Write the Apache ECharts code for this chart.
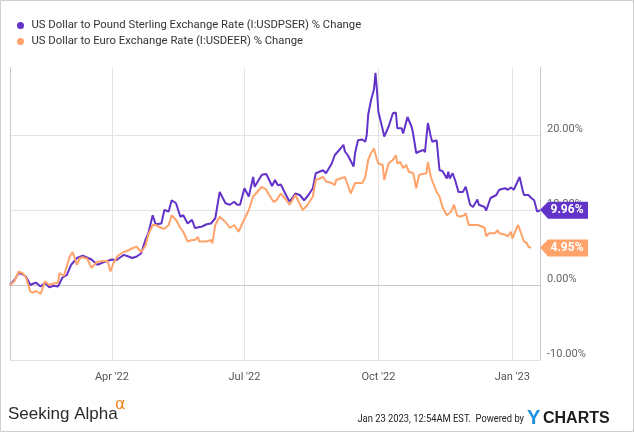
<!DOCTYPE html>
<html>
<head>
<meta charset="utf-8">
<script src="https://cdn.jsdelivr.net/npm/echarts@6/dist/echarts.min.js"></script>
<style>html,body{margin:0;padding:0;background:#fff;}#c{width:635px;height:433px;}</style>
</head>
<body>
<div id="c"></div>
<script>
const gbpName = 'US Dollar to Pound Sterling Exchange Rate (I:USDPSER) % Change';
const eurName = 'US Dollar to Euro Exchange Rate (I:USDEER) % Change';

const gbpDates = ['2022-01-21','2022-01-24','2022-01-27','2022-01-30','2022-02-01','2022-02-04','2022-02-06','2022-02-08','2022-02-11','2022-02-14','2022-02-17','2022-02-20','2022-02-23','2022-02-26','2022-03-01','2022-03-04','2022-03-08','2022-03-12','2022-03-18','2022-03-22','2022-03-27','2022-04-01','2022-04-04','2022-04-09','2022-04-11','2022-04-15','2022-04-18','2022-04-21','2022-04-24','2022-04-26','2022-04-29','2022-05-01','2022-05-05','2022-05-07','2022-05-10','2022-05-12','2022-05-15','2022-05-18','2022-05-20','2022-05-23','2022-05-26','2022-05-28','2022-06-02','2022-06-05','2022-06-08','2022-06-11','2022-06-14','2022-06-18','2022-06-21','2022-06-24','2022-06-26','2022-06-28','2022-07-01','2022-07-04','2022-07-07','2022-07-08','2022-07-13','2022-07-16','2022-07-20','2022-07-22','2022-07-24','2022-07-26','2022-07-29','2022-08-01','2022-08-05','2022-08-08','2022-08-11','2022-08-14','2022-08-17','2022-08-19','2022-08-24','2022-08-26','2022-08-30','2022-09-01','2022-09-05','2022-09-07','2022-09-08','2022-09-10','2022-09-14','2022-09-15','2022-09-17','2022-09-20','2022-09-22','2022-09-23','2022-09-24','2022-09-26','2022-09-28','2022-09-29','2022-09-30','2022-10-01','2022-10-04','2022-10-05','2022-10-08','2022-10-11','2022-10-13','2022-10-14','2022-10-17','2022-10-18','2022-10-21','2022-10-24','2022-10-25','2022-10-27','2022-10-29','2022-11-01','2022-11-02','2022-11-04','2022-11-06','2022-11-07','2022-11-10','2022-11-12','2022-11-14','2022-11-17','2022-11-18','2022-11-19','2022-11-21','2022-11-23','2022-11-25','2022-11-28','2022-11-30','2022-12-03','2022-12-05','2022-12-08','2022-12-09','2022-12-13','2022-12-14','2022-12-17','2022-12-21','2022-12-23','2022-12-27','2022-12-29','2022-12-31','2023-01-02','2023-01-06','2023-01-08','2023-01-09','2023-01-12','2023-01-14','2023-01-16','2023-01-18','2023-01-20'];
const gbpValues = [0,0.67,1.6,1.4,1.1,0,0.2,0.3,-0.2,0.3,-0.3,-0.1,-0.2,1.0,1.33,2.7,3.6,3.9,3.4,2.7,3.1,3.4,3.3,4.0,3.9,3.6,3.8,4.2,6.0,6.9,9.3,8.1,8.2,10.0,9.8,11.3,10.9,9.1,9.3,8.2,8.7,7.6,7.8,8.1,8.2,8.9,12.4,10.9,10.7,11.1,10.7,10.7,12.9,11.8,14.4,13.1,14.7,14.8,13.2,14.0,13.3,13.4,12.2,11.1,12.2,12.0,11.3,12.0,12.9,14.9,15.3,14.9,16.2,17.3,18.2,18.7,17.8,17.3,15.8,17.6,19.3,19.4,19.1,20.0,22.7,24.7,26.1,28.3,26.0,23.1,20.7,19.8,21.1,22.9,23.0,20.9,20.9,20.2,22.4,21.0,20.0,17.6,17.8,18.0,17.7,21.6,19.8,19.1,19.3,15.3,15.2,14.2,15.1,14.2,14.9,13.8,12.4,12.4,13.1,10.7,10.4,11.4,10.7,10.4,9.9,11.6,12.0,12.7,12.9,12.7,13.0,12.7,14.4,12.7,12.0,12.0,11.6,11.3,9.8,9.96];

const eurDates = ['2022-01-21','2022-01-24','2022-01-27','2022-01-30','2022-02-01','2022-02-04','2022-02-06','2022-02-08','2022-02-11','2022-02-14','2022-02-17','2022-02-20','2022-02-23','2022-02-24','2022-02-27','2022-03-03','2022-03-05','2022-03-08','2022-03-10','2022-03-12','2022-03-15','2022-03-18','2022-03-22','2022-03-27','2022-03-29','2022-03-31','2022-04-02','2022-04-05','2022-04-09','2022-04-11','2022-04-15','2022-04-18','2022-04-21','2022-04-24','2022-04-26','2022-04-29','2022-05-01','2022-05-05','2022-05-07','2022-05-10','2022-05-12','2022-05-15','2022-05-18','2022-05-20','2022-05-23','2022-05-26','2022-05-28','2022-05-30','2022-05-31','2022-06-05','2022-06-08','2022-06-09','2022-06-11','2022-06-14','2022-06-18','2022-06-21','2022-06-24','2022-06-27','2022-06-30','2022-07-04','2022-07-07','2022-07-08','2022-07-13','2022-07-16','2022-07-18','2022-07-21','2022-07-23','2022-07-26','2022-07-29','2022-08-01','2022-08-05','2022-08-08','2022-08-10','2022-08-13','2022-08-17','2022-08-19','2022-08-24','2022-08-26','2022-08-30','2022-09-01','2022-09-02','2022-09-05','2022-09-08','2022-09-10','2022-09-12','2022-09-15','2022-09-17','2022-09-20','2022-09-22','2022-09-23','2022-09-24','2022-09-26','2022-09-28','2022-09-30','2022-10-01','2022-10-04','2022-10-05','2022-10-08','2022-10-11','2022-10-13','2022-10-14','2022-10-16','2022-10-18','2022-10-20','2022-10-22','2022-10-25','2022-10-27','2022-10-29','2022-11-03','2022-11-04','2022-11-06','2022-11-09','2022-11-10','2022-11-12','2022-11-14','2022-11-17','2022-11-20','2022-11-22','2022-11-24','2022-11-26','2022-11-29','2022-11-30','2022-12-02','2022-12-05','2022-12-08','2022-12-11','2022-12-13','2022-12-14','2022-12-16','2022-12-20','2022-12-22','2022-12-23','2022-12-27','2022-12-29','2022-12-31','2023-01-01','2023-01-04','2023-01-05','2023-01-07','2023-01-09','2023-01-11','2023-01-12','2023-01-14'];
const eurValues = [0,0.5,1.8,1.5,1.0,-0.9,-1.0,-0.8,-1.2,0.5,0,0.2,0.3,1.6,1.2,3.8,4.4,2.7,3.6,3.7,3.5,2.3,3.1,3.2,3.2,1.8,2.9,3.9,4.4,4.5,4.9,5.1,4.4,5.2,6.7,8.0,8.0,7.6,7.5,8.0,9.3,8.7,7.6,7.1,5.8,6.0,6.0,6.4,5.8,5.8,6.0,5.6,8.0,9.1,8.4,7.6,8.0,7.1,8.4,10.0,11.8,12.0,13.1,12.7,12.0,11.1,11.3,12.2,11.5,10.7,12.0,10.8,10.0,10.6,11.8,14.0,14.4,13.8,13.6,13.3,14.0,14.2,14.4,13.3,12.2,13.6,13.6,13.6,14.4,15.5,16.7,17.6,18.2,16.7,16.2,16.0,14.0,16.2,16.7,17.3,16.2,16.4,15.6,16.0,15.1,14.9,12.9,14.7,14.9,16.4,14.4,12.9,12.4,11.8,10.4,9.3,9.8,10.7,9.3,9.1,9.3,9.6,8.0,8.0,8.0,7.8,7.6,6.5,6.9,6.9,7.3,6.9,6.7,6.5,7.1,6.2,7.6,8.0,6.9,5.8,5.6,5.1,4.95];

const xStart = '2022-01-21';
const xEnd = '2023-01-20';
const xTickDates = ['2022-04-01','2022-07-01','2022-10-01','2023-01-01'];
const xTickLabels = ["Apr '22", "Jul '22", "Oct '22", "Jan '23"];
const yMin = -10, yMax = 29, yStep = 10;

const gbpLast = gbpValues[gbpValues.length - 1];
const eurLast = eurValues[eurValues.length - 1];

const purple = '#6233c8';
const orange = '#ffa36a';

function toTs(s) { const p = s.split('-').map(Number); return Date.UTC(p[0], p[1] - 1, p[2]); }
const xTickTs = xTickDates.map(toTs);

const zip = (d, v) => d.map((x, i) => [toTs(x), v[i]]);
const tagPath = 'path://M0,8 L8,0 L48,0 L48,17 L8,17 Z';

function endTag(value, color) {
  return {
    data: [{ coord: [toTs(xEnd), value] }],
    symbol: tagPath,
    symbolSize: [48, 17],
    symbolKeepAspect: false,
    symbolOffset: [24, 0],
    itemStyle: { color: color },
    label: {
      show: true, position: 'inside', offset: [3, 0],
      formatter: value.toFixed(2) + '%',
      color: '#fff', fontFamily: 'Roboto', fontWeight: 'bold', fontSize: 12
    },
    silent: true, animation: false
  };
}

const chart = echarts.init(document.getElementById('c'), null, { renderer: 'canvas' });
chart.setOption({
  animation: false,
  backgroundColor: '#fff',
  legend: {
    orient: 'vertical', left: 12, top: 15, itemGap: 5,
    itemWidth: 12, itemHeight: 7, icon: 'circle',
    textStyle: { fontFamily: 'Roboto', fontSize: 11.3, color: '#333' },
    data: [gbpName, eurName]
  },
  grid: { left: 10, right: 95, top: 67.5, bottom: 73, containLabel: false },
  xAxis: {
    type: 'value', min: toTs(xStart), max: toTs(xEnd),
    axisLine: { show: true, lineStyle: { color: '#c8c8c8', width: 1 } },
    axisTick: { show: false, customValues: xTickTs },
    axisLabel: {
      customValues: xTickTs, margin: 12,
      fontFamily: 'Roboto', fontSize: 11, color: '#555',
      formatter: function (v) { const i = xTickTs.indexOf(v); return i >= 0 ? xTickLabels[i] : ''; }
    },
    splitLine: { show: true, lineStyle: { color: '#e3e3e3', width: 1 } }
  },
  yAxis: [{
    type: 'value', position: 'right', min: yMin, max: yMax, interval: yStep,
    axisLine: { show: true, lineStyle: { color: '#c8c8c8', width: 1 } },
    axisTick: { show: false },
    axisLabel: {
      margin: 7, verticalAlign: 'bottom', showMaxLabel: false,
      fontFamily: 'Roboto', fontSize: 11, color: '#666',
      formatter: function (v) { return (v % yStep === 0) ? v.toFixed(2) + '%' : ''; }
    },
    splitLine: { show: true, showMaxLine: false, lineStyle: { color: '#e3e3e3', width: 1 } }
  }, {
    type: 'value', position: 'left', min: yMin, max: yMax, interval: yStep,
    axisLine: { show: true, lineStyle: { color: '#c8c8c8', width: 1 } },
    axisTick: { show: false }, axisLabel: { show: false }, splitLine: { show: false }
  }],
  series: [{
    name: gbpName, type: 'line', yAxisIndex: 0, data: zip(gbpDates, gbpValues),
    showSymbol: false, symbol: 'none', color: purple,
    lineStyle: { color: purple, width: 2 }, z: 3,
    markPoint: endTag(gbpLast, purple)
  }, {
    name: eurName, type: 'line', yAxisIndex: 0, data: zip(eurDates, eurValues),
    showSymbol: false, symbol: 'none', color: orange,
    lineStyle: { color: orange, width: 2 }, z: 4,
    markPoint: endTag(eurLast, orange)
  }],
  graphic: [
    { type: 'rect', shape: { x: 0.5, y: 0.5, width: 633, height: 431 }, style: { fill: 'none', stroke: '#cfcfcf', lineWidth: 1 }, silent: true },
    { type: 'text', x: 8, y: 423, style: { text: 'Seeking Alpha', font: '17px "Liberation Sans"', fill: '#2b2b2b', textVerticalAlign: 'bottom' } },
    { type: 'text', x: 115, y: 413, style: { text: 'α', font: '16px "DejaVu Sans"', fill: '#f5821f', textVerticalAlign: 'bottom' } },
    { type: 'text', x: 524, y: 419, scaleX: 0.85, style: { text: 'Jan 23 2023, 12:54AM EST.  Powered by', font: '11px Roboto', fill: '#222', textAlign: 'right', textVerticalAlign: 'middle' } },
    { type: 'text', x: 527, y: 418, style: { text: 'Y', font: 'bold 20px "Liberation Sans"', fill: '#1b8fe0', textAlign: 'left', textVerticalAlign: 'middle' } },
    { type: 'text', x: 543, y: 418.5, style: { text: 'CHARTS', font: 'bold 16px "Liberation Sans"', fill: '#1e1e1e', textAlign: 'left', textVerticalAlign: 'middle', letterSpacing: 2.6 } }
  ]
});
</script>
</body>
</html>
